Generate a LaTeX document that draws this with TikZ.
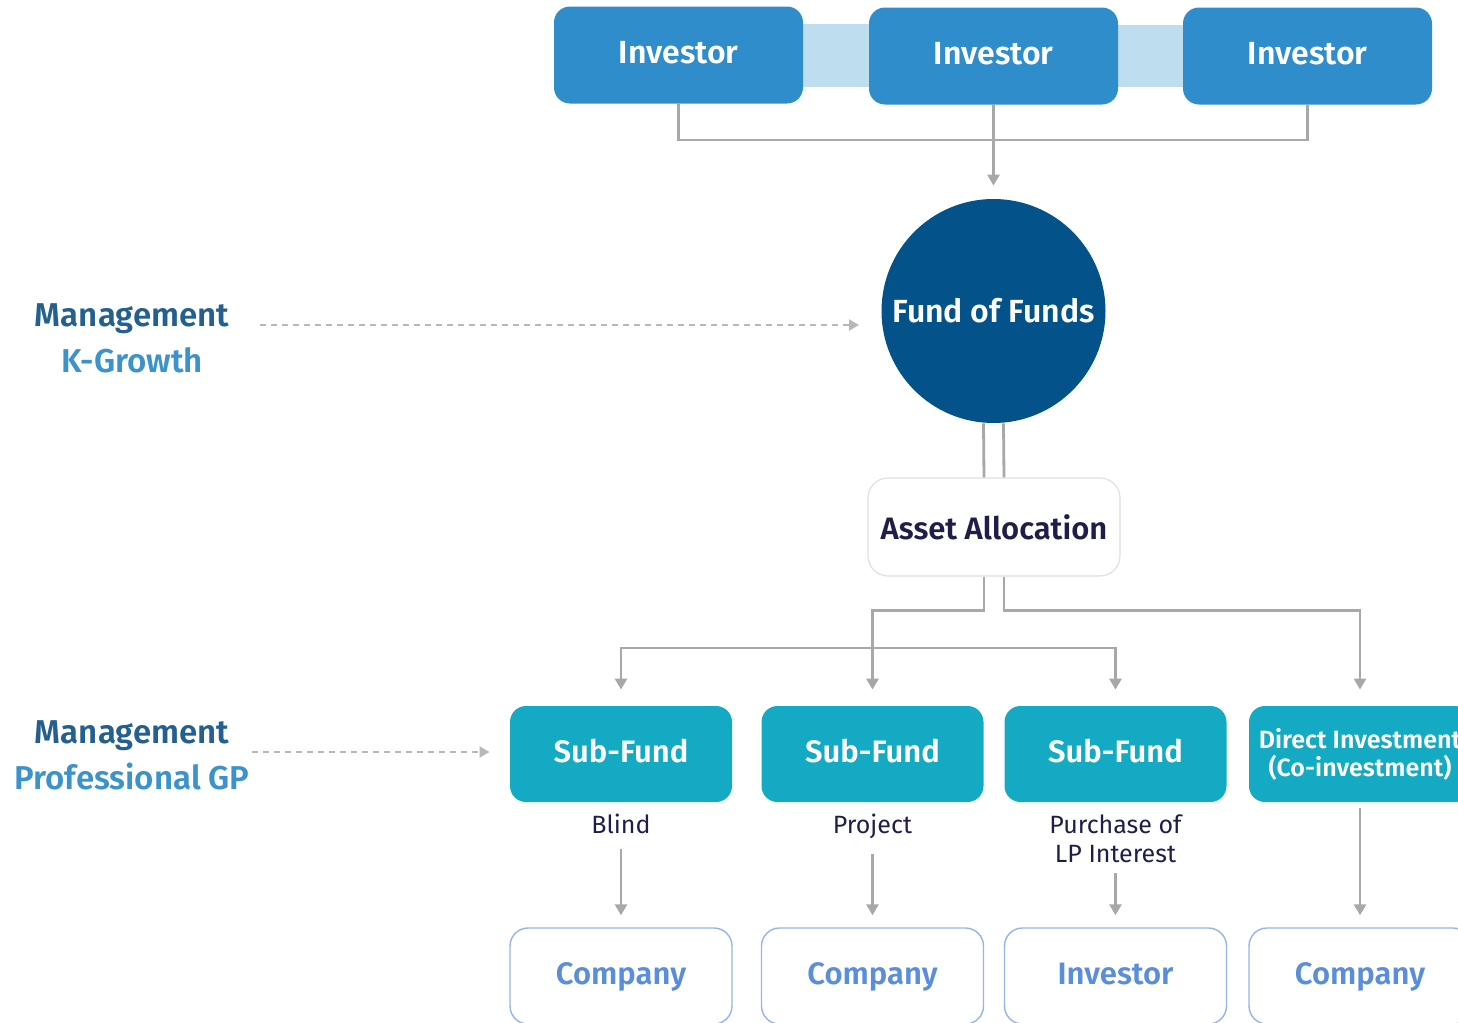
\documentclass[tikz,border=0pt]{standalone}
\usepackage{fontspec}
\setmainfont{Fira Sans}[BoldFont={Fira Sans SemiBold}]
\usetikzlibrary{arrows.meta,backgrounds}
\definecolor{invblue}{HTML}{2F8DCB}
\definecolor{bandblue}{HTML}{BEDDEF}
\definecolor{fofblue}{HTML}{03528A}
\definecolor{subteal}{HTML}{14AAC4}
\definecolor{linegray}{HTML}{A8A8A8}
\definecolor{dashgray}{HTML}{B8B8B8}
\definecolor{navytext}{HTML}{1F1E4A}
\definecolor{mgdark}{HTML}{24608F}
\definecolor{mglight}{HTML}{3C93CB}
\definecolor{coborder}{HTML}{95B5EA}
\definecolor{cotext}{HTML}{5A8EDB}

\begin{document}
\begin{tikzpicture}[x=0.5pt,y=-0.5pt]%
  \tikzstyle{invbox}=[rectangle,rounded corners=8pt,fill=invblue,text=white,minimum width=124.5pt,minimum height=48.5pt,text height=11.5pt,text depth=3pt,font=\bfseries\fontsize{16}{19}\selectfont]
  \tikzstyle{subbox}=[rectangle,rounded corners=8pt,fill=subteal,text=white,minimum width=111pt,minimum height=48pt,text height=11.5pt,text depth=3pt,font=\bfseries\fontsize{15.5}{19}\selectfont]
  \tikzstyle{cobox}=[rectangle,rounded corners=9pt,draw=coborder,line width=0.7pt,fill=white,text=cotext,minimum width=111pt,minimum height=48pt,text height=11.5pt,text depth=3pt,font=\bfseries\fontsize{15.5}{19}\selectfont]
  \tikzstyle{lbl}=[align=center,text=navytext,inner sep=1pt,font=\fontsize{12.5}{14.5}\selectfont]
  \tikzstyle{mgtext}=[align=center,font=\bfseries\fontsize{16.5}{23}\selectfont]
  \tikzstyle{link}=[draw=linegray,line width=1.4pt]
  \tikzstyle{arr}=[link,-{Triangle[width=6pt,length=5.5pt]}]
  \tikzstyle{dasharr}=[draw=dashgray,line width=1pt,dash pattern=on 3pt off 2.5pt,-{Triangle[width=5.5pt,length=5pt,fill=dashgray]}]
  \useasboundingbox (0,0) rectangle (1458,1023);
  \clip (0,0) rectangle (1458,1023);
  % investors
  \node(inv1)[invbox] at (678.5,55){Investor};
  \node(inv2)[invbox] at (993.5,56){Investor};
  \node(inv3)[invbox] at (1307.5,56){Investor};
  \begin{scope}[on background layer]
    \fill[bandblue] ([yshift=15.5pt]inv1.east) rectangle ([yshift=-15.5pt]inv2.west);
    \fill[bandblue] ([yshift=15.5pt]inv2.east) rectangle ([yshift=-15.5pt]inv3.west);
  \end{scope}
  \node(fof)[circle,fill=fofblue,text=white,minimum size=112pt,inner sep=0,font=\bfseries\fontsize{16}{19}\selectfont] at (993.5,311){Fund of Funds};
  \coordinate(join) at (993.5,140);
  \draw[link] (inv1.south) |- (join);
  \draw[link] (inv3.south) |- (join);
  \draw[arr,shorten >=6.5pt] (inv2.south) -- (fof.north);
  % management labels
  \node(kg)[mgtext] at (132,338){\textcolor{mgdark}{Management}\\\textcolor{mglight}{K-Growth}};
  \node(gp)[mgtext] at (132,755){\textcolor{mgdark}{Management}\\\textcolor{mglight}{Professional GP}};
  \coordinate(kgs) at (260,325);
  \coordinate(gps) at (252,752);
  \draw[dasharr,shorten >=11pt] (kgs) -- (kgs -| fof.west);
  % allocation
  \node(aa)[rectangle,rounded corners=10pt,draw=black!12,line width=0.6pt,fill=white,text=navytext,minimum width=126pt,minimum height=49pt,font=\bfseries\fontsize{15.5}{19}\selectfont] at (994,527){Asset Allocation};
  \draw[link] ([xshift=-5pt]fof.south) -- ([xshift=-5pt]aa.north);
  \draw[link] ([xshift=5pt]fof.south) -- ([xshift=5pt]aa.north);
  % sub-funds
  \node(sf1)[subbox] at (621,754){Sub-Fund};
  \node(sf2)[subbox] at (872.5,754){Sub-Fund};
  \node(sf3)[subbox] at (1115.5,754){Sub-Fund};
  \node(di)[subbox,font=\bfseries\fontsize{12.5}{14}\selectfont,align=center,text height=,text depth=] at (1360,754){Direct Investment\\(Co-investment)};
  \draw[dasharr,shorten >=10pt] (gps) -- (gps -| sf1.west);
  \coordinate(split) at (872.5,648);
  \draw[arr,shorten >=8pt] ([xshift=-5pt]aa.south) -- ++(0,-17pt) -| (sf2.north);
  \draw[arr,shorten >=8pt] (split) -| (sf1.north);
  \draw[arr,shorten >=8pt] (split) -| (sf3.north);
  \draw[arr,shorten >=8pt] ([xshift=5pt]aa.south) -- ++(0,-17pt) -| (di.north);
  % labels
  \node(l1)[lbl,anchor=north] at (621,812){Blind};
  \node(l2)[lbl,anchor=north] at (872.5,812){Project};
  \node(l3)[lbl,anchor=north] at (1115.5,812){Purchase of\\LP Interest};
  % companies
  \node(co1)[cobox] at (621,976){Company};
  \node(co2)[cobox] at (872.5,976){Company};
  \node(co3)[cobox] at (1115.5,976){Investor};
  \node(co4)[cobox] at (1360,976){Company};
  \draw[arr,shorten <=6pt,shorten >=6pt] (l1.south) -- (co1.north);
  \draw[arr,shorten <=6pt,shorten >=6pt] (l2.south) -- (co2.north);
  \draw[arr,shorten <=4pt,shorten >=6pt] (l3.south) -- (co3.north);
  \draw[arr,shorten <=3pt,shorten >=6pt] (di.south) -- (co4.north);
\end{tikzpicture}
\end{document}
